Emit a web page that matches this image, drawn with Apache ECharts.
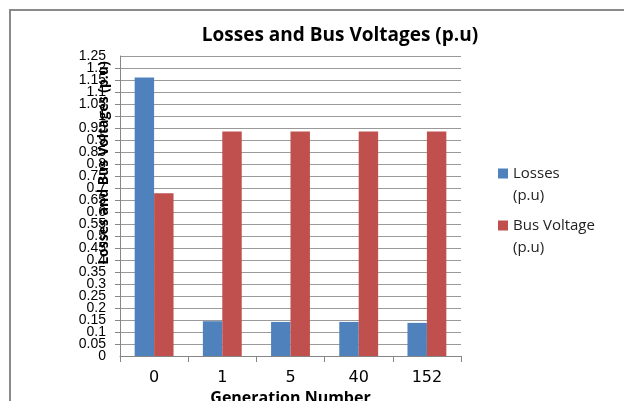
<!DOCTYPE html>
<html>
<head>
<meta charset="utf-8">
<script src="https://cdn.jsdelivr.net/npm/echarts@6/dist/echarts.min.js"></script>
<style>
html,body{margin:0;padding:0;background:#fff;}
#c{width:624px;height:401px;}
</style>
</head>
<body>
<div id="c"></div>
<script>
var categories = ['0', '1', '5', '40', '152'];
var losses = [1.16, 0.145, 0.142, 0.142, 0.138];
var busVoltage = [0.678, 0.935, 0.935, 0.935, 0.935];
var seriesNames = ['Losses (p.u)', 'Bus Voltage (p.u)'];
var titleText = 'Losses and Bus Voltages (p.u)';
var xTitle = 'Generation Number';
var yTitle = 'Losses and Bus Voltages (p.u)';
var yMin = 0, yMax = 1.25, yStep = 0.05;

function fmt(v) { return String(+v.toFixed(2)); }
var yLabelStyle = {fontFamily: 'Liberation Sans', fontSize: 14, lineHeight: 8, color: '#000', margin: 14, formatter: fmt};

var chart = echarts.init(document.getElementById('c'), null, {renderer: 'canvas'});
chart.setOption({
  animation: false,
  backgroundColor: '#ffffff',
  title: {
    text: titleText,
    left: 335, top: 21, textAlign: 'center',
    textStyle: {fontFamily: 'Open Sans', fontWeight: 'bold', fontSize: 19, color: '#000'}
  },
  graphic: [{
    type: 'polyline', shape: {points: [[10, 420], [10, 10], [640, 10]]},
    style: {fill: 'none', stroke: '#8a8a8a', lineWidth: 2}, silent: true
  }, {
    type: 'text', x: 104, y: 163, rotation: Math.PI / 2, z: 10,
    style: {text: yTitle, fontFamily: 'Open Sans', fontWeight: 'bold', fontSize: 14, fill: '#000',
            align: 'center', verticalAlign: 'middle'}
  }],
  legend: {
    orient: 'vertical', left: 493, top: 158,
    itemWidth: 10, itemHeight: 33, itemGap: 8,
    icon: 'path://M0,0L10,0L10,10L0,10Z M0,33L10,33',
    itemStyle: {borderWidth: 0},
    formatter: function (n) { return n.replace(' (p.u)', '\n(p.u)'); },
    textStyle: {fontFamily: 'Open Sans', fontSize: 15, color: '#222', lineHeight: 22}
  },
  grid: {left: 120, right: 163, top: 56, bottom: 45, containLabel: false, outerBoundsMode: 'none'},
  xAxis: {
    type: 'category', data: categories,
    axisLine: {lineStyle: {color: '#868686', width: 1}},
    axisTick: {show: true, length: 6, inside: false, lineStyle: {color: '#868686'}},
    axisLabel: {fontFamily: 'DejaVu Sans', fontSize: 16, color: '#000', margin: 14},
    name: xTitle, nameLocation: 'middle', nameGap: 33,
    nameTextStyle: {fontFamily: 'Open Sans', fontWeight: 'bold', fontSize: 16, color: '#000'}
  },
  yAxis: [{
    type: 'value', min: yMin, max: yMax, interval: yStep, position: 'left', offset: 0,
    axisLine: {show: true, lineStyle: {color: '#868686'}},
    axisTick: {show: true, length: 5, lineStyle: {color: '#868686'}},
    splitLine: {lineStyle: {color: '#9a9a9a', width: 1}},
    axisLabel: Object.assign({showMinLabel: false, showMaxLabel: false}, yLabelStyle)
  }, {
    type: 'value', min: yMin, max: yMax, interval: yMax - yMin, position: 'left', offset: 0,
    axisLine: {show: false}, axisTick: {show: false}, splitLine: {show: false},
    axisLabel: Object.assign({showMinLabel: true, showMaxLabel: true}, yLabelStyle)
  }],
  series: [
    {name: seriesNames[0], type: 'bar', data: losses, barGap: '0%', barCategoryGap: '43%',
     yAxisIndex: 0, itemStyle: {color: '#4F81BD'}},
    {name: seriesNames[1], type: 'bar', data: busVoltage, barGap: '0%', barCategoryGap: '43%',
     yAxisIndex: 0, itemStyle: {color: '#C0504D'}}
  ]
});
</script>
</body>
</html>
